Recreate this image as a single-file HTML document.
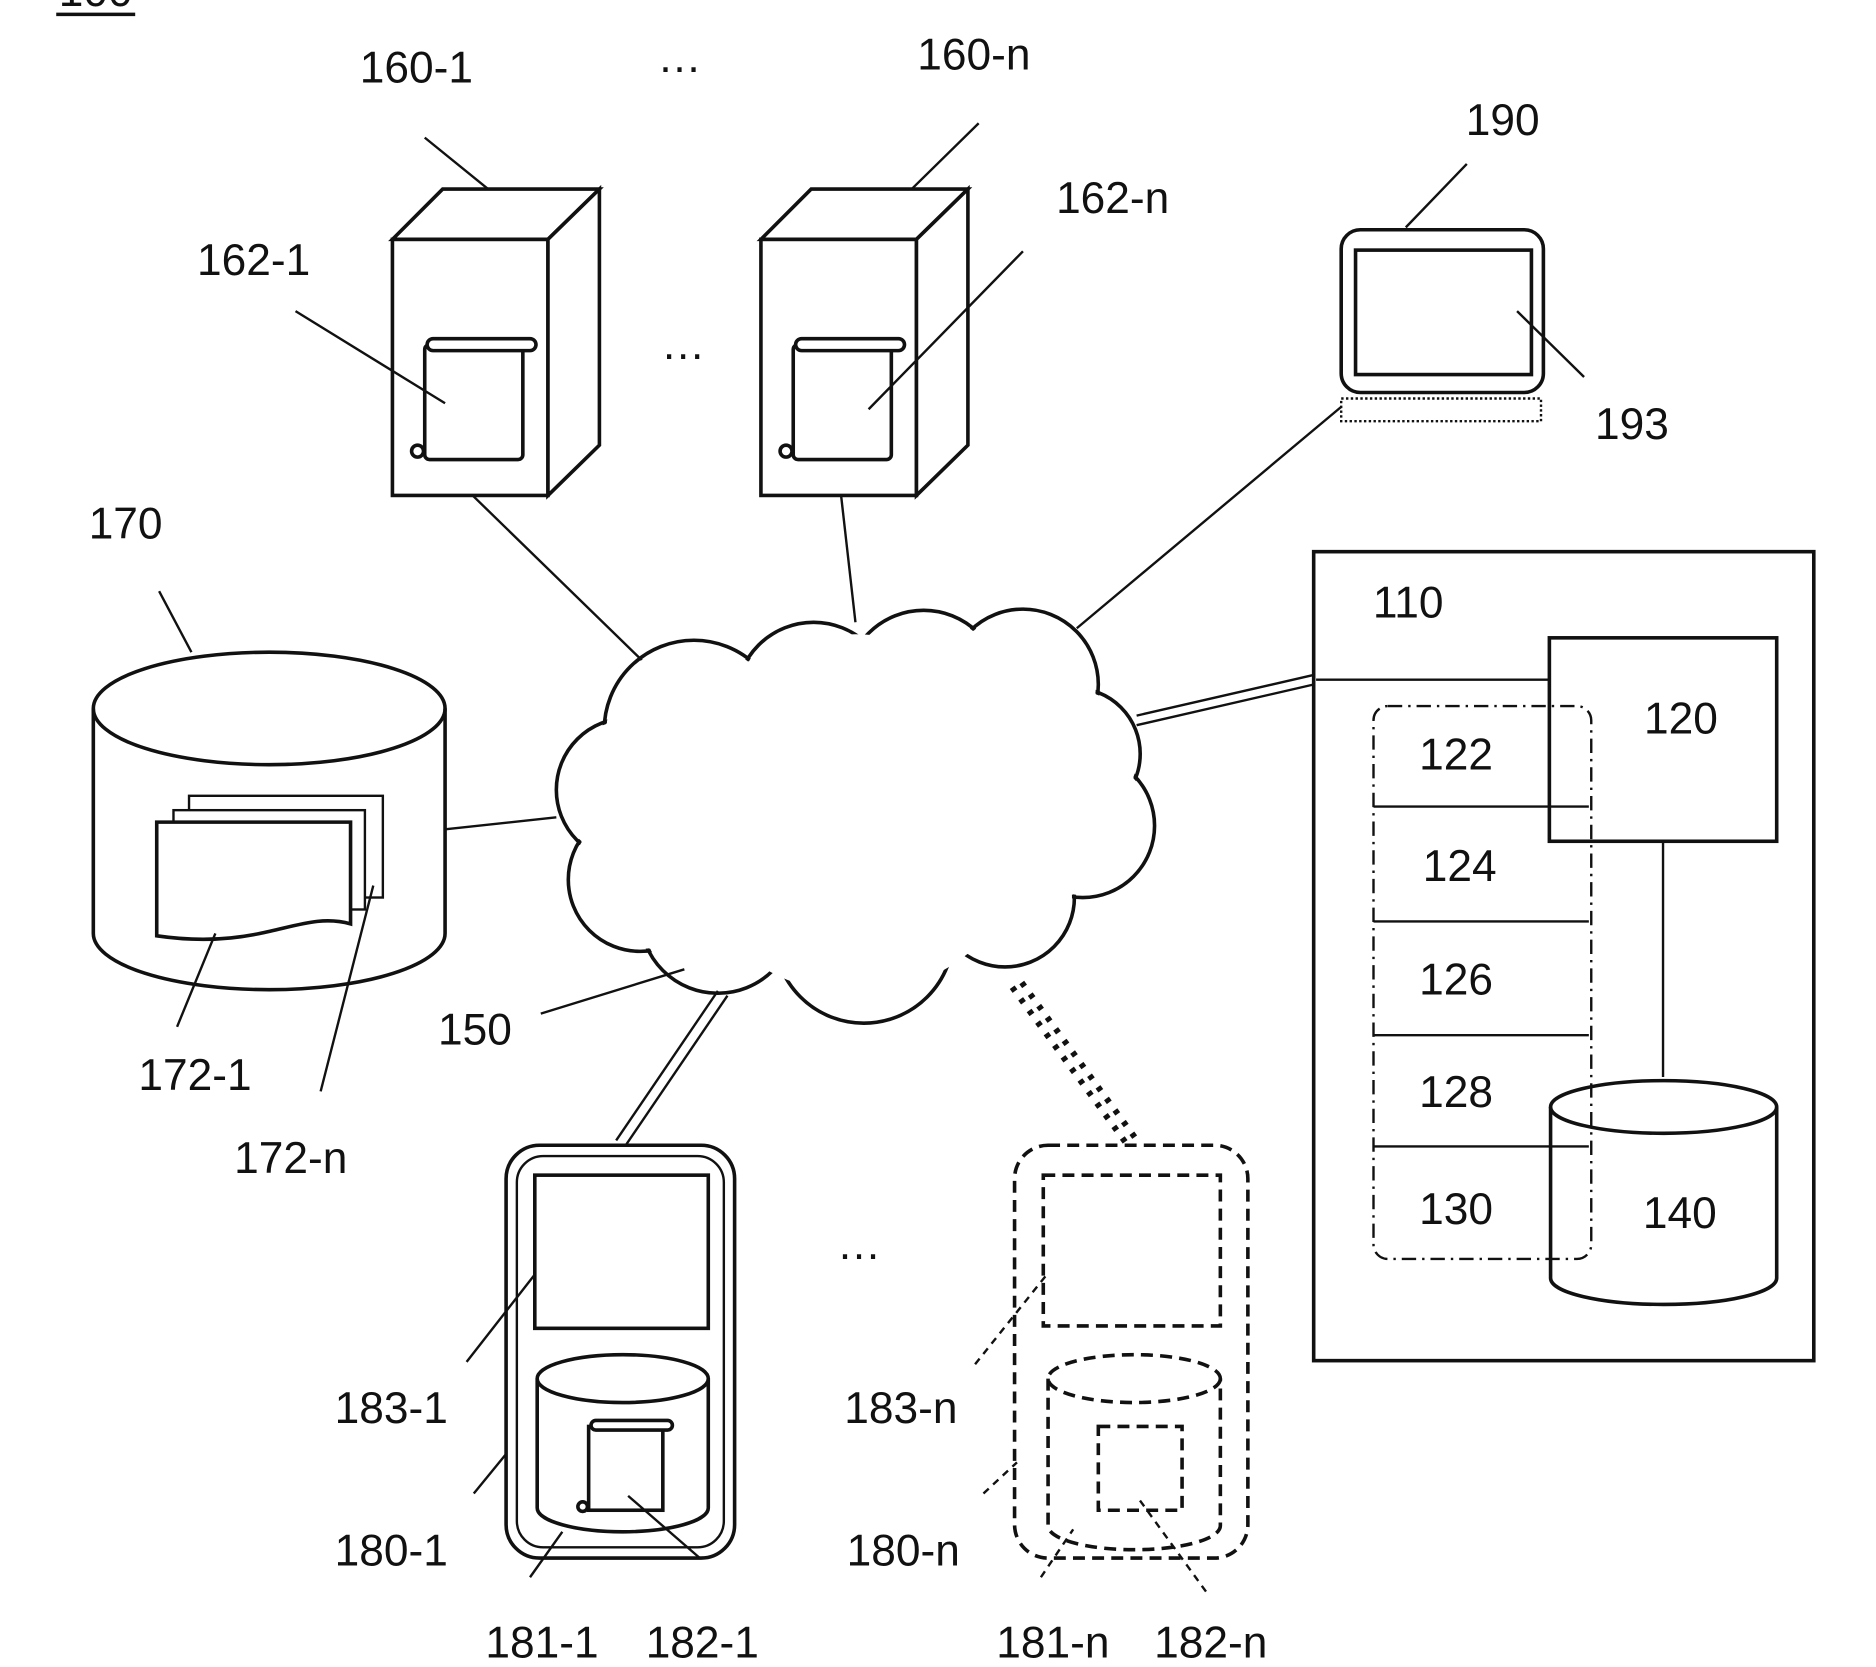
<!DOCTYPE html>
<html><head><meta charset="utf-8"><style>
html,body{margin:0;padding:0;background:#fff}
svg{display:block}
text{font-family:"Liberation Sans",sans-serif;font-size:37px;fill:#111;text-anchor:middle}
</style></head><body>
<svg width="1876" height="1667" viewBox="0 0 1568 1393" preserveAspectRatio="none" xmlns="http://www.w3.org/2000/svg">
<g stroke="#111" fill="none" stroke-width="2">
<line x1="47" y1="12" x2="113" y2="12" stroke-width="3"/>
<g id="srv">
<rect x="328" y="200" width="130" height="214" stroke-width="3" fill="#fff"/>
<polygon points="328,200 370,158 501,158 458,200" stroke-width="3" fill="#fff"/>
<polygon points="458,200 501,158 501,372 458,414" stroke-width="3" fill="#fff"/>
<rect x="355" y="288" width="82" height="96" rx="4" stroke-width="3"/>
<rect x="357" y="283" width="91" height="10" rx="5" stroke-width="3" fill="#fff"/>
<circle cx="349" cy="377" r="5" stroke-width="3"/>
</g>
<use href="#srv" x="308"/>
<line x1="355" y1="115" x2="408" y2="158"/>
<line x1="818" y1="103" x2="762" y2="158"/>
<line x1="247" y1="260" x2="372" y2="337"/>
<line x1="855" y1="210" x2="726" y2="342"/>
<rect x="1121" y="192" width="169" height="136" rx="16" stroke-width="3"/>
<rect x="1133" y="209" width="147" height="104" stroke-width="3"/>
<rect x="1121" y="333" width="167" height="19" stroke-dasharray="2,2"/>
<line x1="1226" y1="137" x2="1175" y2="190"/>
<line x1="1268" y1="260" x2="1324" y2="315"/>
<line x1="1121" y1="340" x2="900" y2="525"/>
<line x1="395" y1="414" x2="545" y2="560"/>
<line x1="703" y1="414" x2="715" y2="520"/>
<line x1="372" y1="693" x2="465" y2="683"/>
<g stroke-width="3">
<circle cx="580" cy="610" r="75"/><circle cx="680" cy="585" r="65"/><circle cx="772" cy="575" r="65"/><circle cx="855" cy="572" r="63"/><circle cx="898" cy="630" r="55"/><circle cx="905" cy="690" r="60"/><circle cx="840" cy="750" r="58"/><circle cx="722" cy="780" r="75"/><circle cx="600" cy="765" r="65"/><circle cx="535" cy="735" r="60"/><circle cx="525" cy="660" r="60"/>
</g>
<g fill="#fff" stroke="none">
<circle cx="580" cy="610" r="73"/><circle cx="680" cy="585" r="63"/><circle cx="772" cy="575" r="63"/><circle cx="855" cy="572" r="61"/><circle cx="898" cy="630" r="53"/><circle cx="905" cy="690" r="58"/><circle cx="840" cy="750" r="56"/><circle cx="722" cy="780" r="73"/><circle cx="600" cy="765" r="63"/><circle cx="535" cy="735" r="58"/><circle cx="525" cy="660" r="58"/><circle cx="715" cy="680" r="150"/>
</g>
<line x1="452" y1="847" x2="572" y2="810"/>
<path d="M78,592 L78,780 A147,47 0 0 0 372,780 L372,592" stroke-width="3"/>
<ellipse cx="225" cy="592" rx="147" ry="47" stroke-width="3"/>
<rect x="158" y="665" width="162" height="85" fill="#fff"/>
<rect x="145" y="677" width="160" height="83" fill="#fff"/>
<path d="M131,687 H293 V772 C250,760 220,795 131,782 Z" stroke-width="3" fill="#fff"/>
<line x1="133" y1="494" x2="160" y2="545"/>
<line x1="148" y1="858" x2="180" y2="780"/>
<line x1="268" y1="912" x2="312" y2="740"/>
<rect x="1098" y="461" width="418" height="676" stroke-width="3"/>
<rect x="1295" y="533" width="190" height="170" stroke-width="3"/>
<rect x="1148" y="590" width="182" height="462" rx="12" stroke-dasharray="12,5,2,5"/>
<line x1="1148" y1="674" x2="1328" y2="674"/>
<line x1="1148" y1="770" x2="1328" y2="770"/>
<line x1="1148" y1="865" x2="1328" y2="865"/>
<line x1="1148" y1="958" x2="1328" y2="958"/>
<line x1="1100" y1="568" x2="1295" y2="568"/>
<line x1="1390" y1="703" x2="1390" y2="900"/>
<path d="M1296,925 L1296,1068 A94.5,22 0 0 0 1485,1068 L1485,925" stroke-width="3"/>
<ellipse cx="1390.5" cy="925" rx="94.5" ry="22" stroke-width="3"/>
<line x1="950" y1="598" x2="1098" y2="564"/>
<line x1="950" y1="606" x2="1098" y2="572"/>
<line x1="515" y1="953" x2="600" y2="828"/>
<line x1="523" y1="957" x2="608" y2="832"/>
<line x1="846" y1="825" x2="941" y2="955" stroke-width="5" stroke-dasharray="4,8"/>
<line x1="854" y1="821" x2="949" y2="951" stroke-width="5" stroke-dasharray="4,8"/>
<rect x="423" y="957" width="191" height="345" rx="28" stroke-width="3"/>
<rect x="432" y="966" width="173" height="327" rx="22"/>
<rect x="447" y="982" width="145" height="128" stroke-width="3"/>
<path d="M449,1152 L449,1260 A71.5,20 0 0 0 592,1260 L592,1152" stroke-width="3"/>
<ellipse cx="520.5" cy="1152" rx="71.5" ry="20" stroke-width="3"/>
<rect x="492" y="1192" width="62" height="70" stroke-width="3"/>
<rect x="494" y="1187" width="68" height="8" rx="4" stroke-width="3" fill="#fff"/>
<circle cx="487" cy="1259" r="4" stroke-width="3"/>
<line x1="390" y1="1138" x2="447" y2="1065"/>
<line x1="396" y1="1248" x2="423" y2="1215"/>
<line x1="443" y1="1318" x2="470" y2="1280"/>
<line x1="585" y1="1302" x2="525" y2="1250"/>
<g stroke-dasharray="10,6" stroke-width="3">
<rect x="848" y="957" width="195" height="345" rx="28"/>
<rect x="872" y="982" width="148" height="126"/>
<path d="M876,1152 L876,1275 A72,20 0 0 0 1020,1275 L1020,1152"/>
<ellipse cx="948" cy="1152" rx="72" ry="20"/>
<rect x="918" y="1192" width="70" height="70"/>
</g>
<g stroke-dasharray="6,5">
<line x1="815" y1="1140" x2="875" y2="1065"/>
<line x1="822" y1="1248" x2="850" y2="1222"/>
<line x1="870" y1="1318" x2="897" y2="1278"/>
<line x1="1008" y1="1330" x2="950" y2="1250"/>
</g>
</g>
<text x="80" y="5">100</text>
<text x="348" y="69">160-1</text>
<text x="568" y="60">…</text>
<text x="814" y="58">160-n</text>
<text x="212" y="230">162-1</text>
<text x="571" y="300">…</text>
<text x="930" y="178">162-n</text>
<text x="1256" y="113">190</text>
<text x="1364" y="367">193</text>
<text x="105" y="450">170</text>
<text x="163" y="911">172-1</text>
<text x="243" y="980">172-n</text>
<text x="397" y="873">150</text>
<text x="1177" y="516">110</text>
<text x="1405" y="613">120</text>
<text x="1217" y="643">122</text>
<text x="1220" y="736">124</text>
<text x="1217" y="831">126</text>
<text x="1217" y="925">128</text>
<text x="1217" y="1023">130</text>
<text x="1404" y="1026">140</text>
<text x="718" y="1052">…</text>
<text x="327" y="1189">183-1</text>
<text x="327" y="1308">180-1</text>
<text x="453" y="1385">181-1</text>
<text x="587" y="1385">182-1</text>
<text x="753" y="1189">183-n</text>
<text x="755" y="1308">180-n</text>
<text x="880" y="1385">181-n</text>
<text x="1012" y="1385">182-n</text>
</svg>
</body></html>
